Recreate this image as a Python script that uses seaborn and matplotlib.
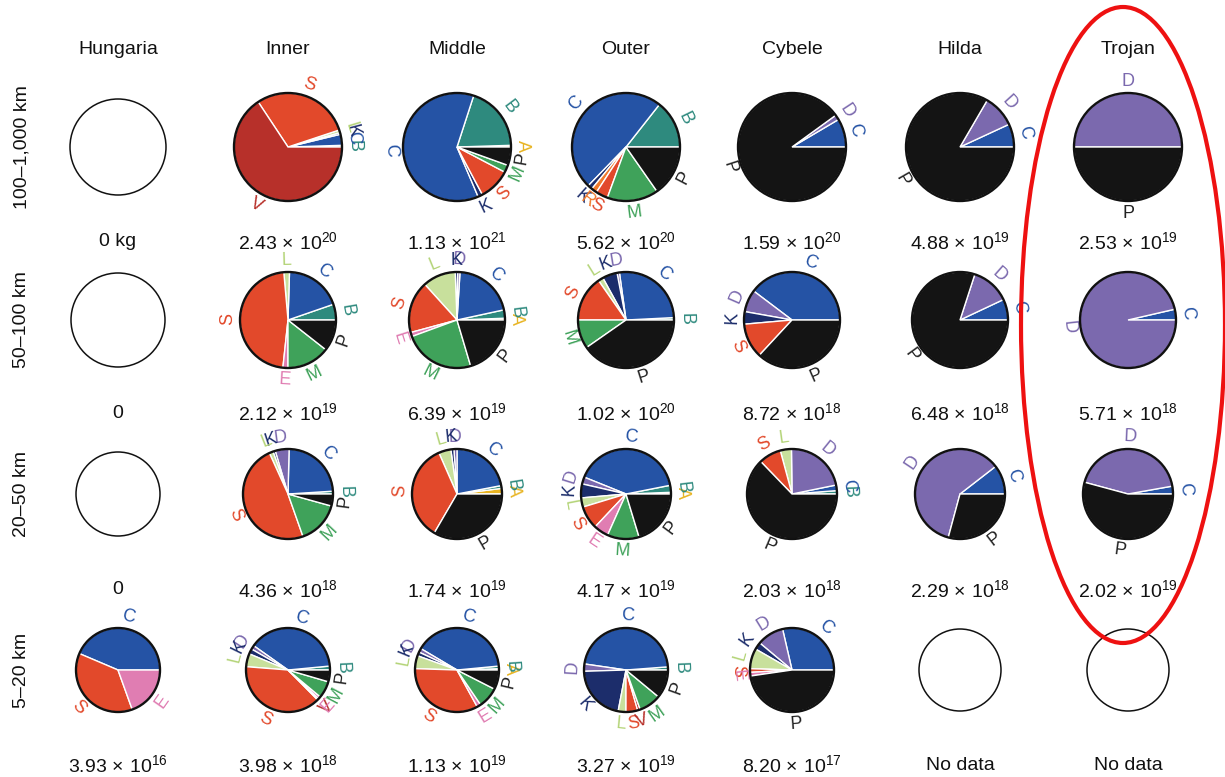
import numpy as np
import matplotlib
matplotlib.use('Agg')
import matplotlib.pyplot as plt
from matplotlib.patches import Circle, Ellipse
import seaborn as sns

sns.set_theme(style='white')
plt.rcParams['font.family'] = ['Liberation Sans', 'DejaVu Sans']
plt.rcParams['mathtext.fontset'] = 'custom'
plt.rcParams['mathtext.rm'] = 'Liberation Sans'
plt.rcParams['mathtext.it'] = 'Liberation Sans:italic'
plt.rcParams['mathtext.bf'] = 'Liberation Sans:bold'

# --- 데이터 ---
regions = ['Hungaria', 'Inner', 'Middle', 'Outer', 'Cybele', 'Hilda', 'Trojan']
size_bins = ['100–1,000 km', '50–100 km', '20–50 km', '5–20 km']

# 클래스 순서 (0도에서 반시계 방향)
class_order = ['A', 'B', 'C', 'D', 'K', 'L', 'R', 'S', 'V', 'E', 'M', 'P']

# 구성비 (%), 빈 dict = 빈 원
comp_100_1000 = [
    {},
    {'B': 0.5, 'C': 3.3, 'K': 0.5, 'L': 0.8, 'S': 29.2, 'V': 65.7},
    {'A': 0.5, 'B': 19.5, 'C': 61.4, 'K': 1.4, 'S': 9.5, 'M': 2.2, 'P': 5.5},
    {'B': 14.4, 'C': 48.3, 'K': 1.4, 'R': 1.7, 'S': 3.6, 'M': 15.3, 'P': 15.3},
    {'C': 8.5, 'D': 1.5, 'P': 90.0},
    {'C': 6.9, 'D': 9.7, 'P': 83.4},
    {'D': 50.0, 'P': 50.0},
]
comp_50_100 = [
    {},
    {'B': 5.3, 'C': 19.2, 'L': 1.9, 'S': 46.9, 'E': 1.7, 'M': 14.4, 'P': 10.6},
    {'A': 0.6, 'B': 2.8, 'C': 20.6, 'D': 0.8, 'K': 0.8, 'L': 11.1, 'S': 17.5,
     'E': 1.4, 'M': 24.0, 'P': 20.4},
    {'B': 0.8, 'C': 26.4, 'D': 0.8, 'K': 5.0, 'L': 1.7, 'S': 15.3, 'M': 9.7, 'P': 40.3},
    {'C': 39.7, 'D': 7.5, 'K': 4.2, 'S': 11.7, 'P': 36.9},
    {'C': 7.0, 'D': 13.0, 'P': 80.0},
    {'C': 3.6, 'D': 96.4},
]
comp_20_50 = [
    {},
    {'B': 1.0, 'C': 23.6, 'D': 5.0, 'K': 0.8, 'L': 1.4, 'S': 48.6, 'M': 15.3, 'P': 4.3},
    {'A': 2.0, 'B': 1.0, 'C': 22.0, 'D': 1.1, 'K': 1.1, 'L': 4.4, 'S': 35.0, 'P': 33.4},
    {'A': 0.6, 'B': 2.5, 'C': 40.8, 'D': 2.5, 'K': 5.0, 'L': 3.3, 'S': 8.3,
     'E': 5.3, 'M': 11.4, 'P': 20.3},
    {'B': 1.2, 'C': 2.0, 'D': 22.0, 'L': 4.0, 'S': 8.0, 'P': 62.8},
    {'C': 10.5, 'D': 60.3, 'P': 29.2},
    {'C': 2.8, 'D': 43.0, 'P': 54.2},
]
comp_5_20 = [
    {'C': 43.6, 'S': 36.9, 'E': 19.5},
    {'B': 1.5, 'C': 38.5, 'D': 1.5, 'K': 2.0, 'L': 5.0, 'S': 38.5, 'V': 0.6,
     'E': 0.9, 'M': 6.5, 'P': 4.5},
    {'A': 0.5, 'B': 1.0, 'C': 40.0, 'D': 1.5, 'K': 1.5, 'L': 5.0, 'S': 33.5,
     'E': 1.5, 'M': 8.0, 'P': 7.5},
    {'B': 1.2, 'C': 46.5, 'D': 2.8, 'K': 21.5, 'L': 3.0, 'S': 4.5, 'V': 1.0,
     'M': 8.5, 'P': 11.0},
    {'C': 28.6, 'D': 10.3, 'K': 2.8, 'L': 7.8, 'S': 1.4, 'E': 1.4, 'P': 47.7},
    {},
    {},
]
compositions = [comp_100_1000, comp_50_100, comp_20_50, comp_5_20]

# 총 질량 (kg)
mass_100_1000 = ['0 kg', '2.43e20', '1.13e21', '5.62e20', '1.59e20', '4.88e19', '2.53e19']
mass_50_100 = ['0', '2.12e19', '6.39e19', '1.02e20', '8.72e18', '6.48e18', '5.71e18']
mass_20_50 = ['0', '4.36e18', '1.74e19', '4.17e19', '2.03e18', '2.29e18', '2.02e19']
mass_5_20 = ['3.93e16', '3.98e18', '1.13e19', '3.27e19', '8.20e17', 'No data', 'No data']
masses = [mass_100_1000, mass_50_100, mass_20_50, mass_5_20]

# --- 스타일 ---
class_colors = {
    'A': '#E8B422', 'B': '#2E8A7E', 'C': '#2553A5', 'D': '#7B69AE',
    'K': '#1C2D6B', 'L': '#C8E09C', 'R': '#F07A2C', 'S': '#E2492B',
    'V': '#B7302A', 'E': '#E07DB2', 'M': '#3FA25A', 'P': '#141414',
}
label_colors = dict(class_colors)
label_colors['L'] = '#B4D478'
label_colors['P'] = '#222222'

W, H = 1225, 777
col_x = [118, 288, 457, 626, 792, 960, 1128]
row_y = [147, 320, 494, 670]
mass_y = [242, 413, 590, 765]
row_r = [54, 48, 45, 42]
empty_r = [48, 47, 42, 41]


def mass_text(s):
    if 'e' not in s:
        return s
    m, e = s.split('e')
    return r'$\mathregular{' + m + r'\,\times\,10^{' + str(int(e)) + '}}$'


def draw_pie(ax, comp, cx, cy, r, r0):
    if not comp:
        ax.add_patch(Circle((cx, cy), r0, fill=False, ec='#111111', lw=1.1))
        return
    keys = [k for k in class_order if k in comp]
    vals = [comp[k] for k in keys]
    wedges, _ = ax.pie(vals, colors=[class_colors[k] for k in keys],
                       startangle=0, counterclock=True, center=(cx, cy),
                       radius=r, normalize=True,
                       wedgeprops=dict(edgecolor='white', linewidth=1.0))
    ax.add_patch(Circle((cx, cy), r, fill=False, ec='#111111', lw=1.7, zorder=5))
    for w, k in zip(wedges, keys):
        mid = (w.theta1 + w.theta2) / 2
        a = np.deg2rad(mid)
        lx = cx + (r + 12) * np.cos(a)
        ly = cy + (r + 12) * np.sin(a)
        m = mid % 360
        rot = m - 90 if m <= 180 else m + 90
        ax.text(lx, ly, k, rotation=rot, rotation_mode='anchor',
                ha='center', va='center', color=label_colors[k], fontsize=13)


fig = plt.figure(figsize=(W / 100, H / 100), dpi=100)
ax = fig.add_axes([0, 0, 1, 1])

for i in range(4):
    for j in range(7):
        draw_pie(ax, compositions[i][j], col_x[j], H - row_y[i], row_r[i], empty_r[i])
        ax.text(col_x[j], H - mass_y[i], mass_text(masses[i][j]),
                ha='center', va='center', fontsize=14, color='#111111')

for j, name in enumerate(regions):
    ax.text(col_x[j], H - 50, name, ha='center', va='center', fontsize=14, color='#111111')

for i, lab in enumerate(size_bins):
    ax.text(22, H - row_y[i], lab, rotation=90, ha='center', va='center',
            fontsize=14, color='#111111')

# 트로이 열 강조
ax.add_patch(Ellipse((1123, H - 325), 204, 636, fill=False, ec='#EE1111',
                     lw=3.0, clip_on=False, zorder=6))

ax.set_xlim(0, W)
ax.set_ylim(0, H)
ax.set_aspect('auto')
ax.axis('off')

fig.savefig('out.png', dpi=100, facecolor='white')
